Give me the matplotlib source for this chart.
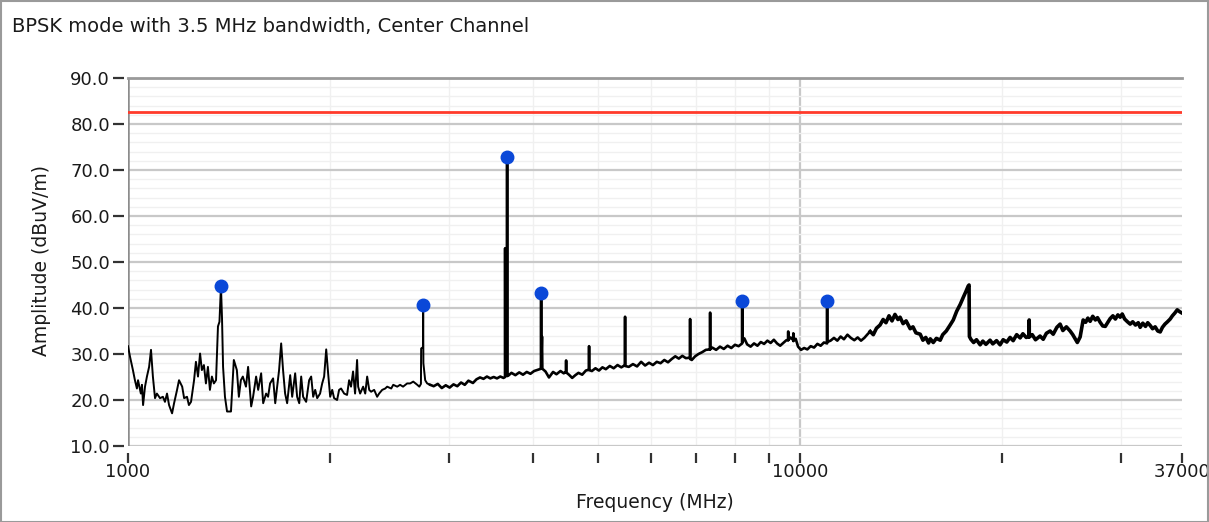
import matplotlib
matplotlib.use('Agg')
import matplotlib.pyplot as plt
from matplotlib.patches import Rectangle
from matplotlib.ticker import FixedLocator, NullFormatter, MultipleLocator

title = "BPSK mode with 3.5 MHz bandwidth, Center Channel"
x_label = "Frequency (MHz)"
y_label = "Amplitude (dBuV/m)"

x_major_ticks = [1000, 10000, 37000]
x_major_labels = ["1000", "10000", "37000"]
x_minor_ticks = [2000, 3000, 4000, 5000, 6000, 7000, 8000, 9000, 20000, 30000]
y_ticks = [10, 20, 30, 40, 50, 60, 70, 80, 90]

limit_level = 82.5

# Peak markers
marker_freq = [1375, 2749, 3665, 4118, 8200, 10970]
marker_amp = [44.8, 40.7, 72.8, 43.3, 41.5, 41.5]

# Trace: low-frequency segment (MHz, dBuV/m)
low_freq = [1000, 1007, 1017, 1024, 1031, 1035, 1045, 1049, 1053, 1060,
            1067, 1075, 1082, 1089, 1097, 1104, 1116, 1127, 1135, 1143,
            1151, 1163, 1171, 1183, 1191, 1204, 1212, 1224, 1232, 1241,
            1254, 1262, 1271, 1280, 1288, 1297, 1306, 1315, 1324, 1333,
            1342, 1352, 1361, 1368, 1375, 1380, 1385, 1394, 1404, 1423,
            1437, 1452, 1462, 1472, 1482, 1498, 1509, 1525, 1535, 1551,
            1562, 1578, 1589, 1605, 1616, 1627, 1644, 1656, 1678, 1690,
            1701, 1713, 1725, 1743, 1755, 1773, 1785, 1798, 1810, 1822,
            1841, 1860, 1873, 1886, 1899, 1912, 1931, 1945, 1958, 1972,
            1985, 1999, 2013, 2026, 2047, 2061, 2075, 2097, 2118, 2133,
            2147, 2162, 2177, 2192, 2200, 2215, 2238, 2254, 2269, 2285,
            2300, 2324, 2348, 2364, 2389, 2414, 2430, 2464, 2481, 2515,
            2540, 2566, 2602, 2629, 2657, 2694, 2713, 2728, 2730, 2747,
            2749, 2751, 2768, 2787, 2816]
low_amp = [31.7, 29.4, 26.5, 24.3, 22.5, 24.3, 21.4, 23.3, 18.9, 22.9,
           25.1, 27.2, 30.9, 25.1, 20.4, 21.4, 20.4, 20.7, 19.6, 21.4,
           18.9, 17.1, 19.3, 22.2, 24.3, 22.9, 20.4, 20.7, 18.9, 19.6,
           24.3, 28.3, 25.1, 30.1, 26.5, 27.6, 23.6, 27.2, 22.2, 25.1,
           23.6, 24.3, 36.0, 37.0, 44.8, 37.8, 27.2, 20.7, 17.5, 17.5,
           28.7, 26.5, 20.7, 24.3, 25.1, 22.9, 27.2, 18.6, 20.7, 25.1,
           22.2, 25.8, 19.3, 21.4, 20.7, 23.6, 24.7, 19.3, 26.5, 32.3,
           26.5, 21.4, 19.3, 25.4, 20.7, 25.8, 20.7, 19.3, 25.1, 20.7,
           19.6, 24.3, 25.1, 20.7, 22.2, 20.4, 21.4, 23.6, 25.1, 31.0,
           25.8, 20.7, 22.2, 20.4, 20.0, 22.2, 22.5, 21.4, 21.1, 24.3,
           22.9, 26.2, 21.4, 28.7, 22.9, 21.4, 22.9, 21.4, 25.1, 22.2,
           21.8, 22.2, 20.7, 21.4, 22.2, 22.5, 22.9, 22.5, 23.3, 22.9,
           23.3, 22.9, 23.6, 23.6, 24.0, 23.3, 22.9, 23.5, 31.2, 31.5,
           40.7, 28.0, 24.3, 23.6, 23.3]

# Trace: mid segment
mid_freq = [2816, 2850, 2890, 2930, 2970, 3010, 3050, 3090, 3130, 3170, 3210,
            3260, 3300, 3340, 3380, 3420, 3460, 3500, 3540, 3580, 3620,
            3640, 3640, 3641, 3652, 3664, 3665, 3666, 3680, 3720, 3770,
            3820, 3870, 3920, 3970, 4020, 4060, 4117, 4118, 4119, 4130,
            4135, 4180, 4230, 4290, 4340, 4400, 4450, 4485, 4486, 4487,
            4530, 4580, 4630, 4680, 4740, 4800, 4852, 4853, 4854, 4900,
            4960, 5020, 5080, 5140, 5210, 5280, 5350, 5420, 5489, 5490,
            5491, 5560, 5640, 5720, 5800, 5880, 5960, 6040, 6120, 6200,
            6280, 6360, 6440, 6520, 6600, 6680, 6760, 6859, 6860, 6861,
            6900, 6980, 7060, 7150, 7240, 7346, 7347, 7348, 7400, 7500,
            7600, 7700, 7800, 7900, 8000, 8100, 8199, 8200, 8201, 8260,
            8340, 8440, 8540, 8640, 8740, 8840, 8940, 9040, 9140, 9240,
            9340, 9440, 9540, 9599, 9600, 9601, 9680, 9769, 9770, 9771,
            9850, 9930, 10030, 10140, 10250, 10370, 10490, 10610, 10730, 10850,
            10969, 10970, 10971, 11100, 11230, 11360, 11490, 11620, 11760, 11900,
            12040, 12180, 12320, 12460, 12600, 12715]
mid_amp = [23.3, 23.0, 23.5, 22.6, 23.2, 22.7, 23.4, 23.0, 23.8, 23.3, 24.2,
           23.7, 24.5, 24.9, 24.6, 25.1, 24.7, 25.0, 24.7, 25.1, 24.8,
           25.0, 53.0, 25.2, 25.6, 25.4, 72.8, 25.2, 25.3, 25.9, 25.4,
           26.0, 25.5, 26.1, 25.7, 26.3, 26.5, 26.8, 43.3, 26.9, 33.8,
           26.8, 26.2, 24.9, 26.1, 25.6, 26.3, 25.8, 26.2, 28.6, 26.0,
           25.5, 24.8, 25.4, 25.9, 25.5, 26.4, 26.6, 31.7, 26.5, 26.3,
           26.9, 26.4, 27.1, 26.7, 27.4, 26.9, 27.6, 27.1, 27.6, 38.1,
           27.4, 27.2, 27.8, 27.3, 28.3, 27.5, 28.1, 27.6, 28.3, 28.0,
           28.7, 28.2, 28.9, 29.5, 29.0, 29.6, 29.1, 29.2, 37.6, 28.9,
           28.7, 29.5, 30.0, 30.4, 30.9, 31.0, 39.0, 31.0, 31.4, 30.9,
           31.6, 31.1, 31.8, 31.3, 32.0, 31.7, 32.3, 41.5, 32.5, 33.4,
           32.1, 31.6, 32.3, 31.8, 32.6, 32.2, 32.9, 32.4, 33.1, 32.3,
           31.8, 32.4, 33.0, 33.0, 34.9, 33.0, 33.6, 33.0, 34.5, 32.8,
           33.3, 31.6, 30.9, 31.3, 31.0, 31.7, 31.4, 32.2, 31.8, 32.5,
           32.3, 41.5, 32.6, 32.9, 33.5, 32.9, 33.8, 33.2, 34.2, 33.5,
           33.0, 33.6, 32.9, 33.5, 34.3, 34.9]

# Trace: high segment
high_freq = [12715, 12850, 12990, 13150, 13290, 13420, 13560, 13700, 13840, 13980,
             14085, 14230, 14380, 14580, 14720, 14870, 15090, 15230, 15380, 15530,
             15620, 15780, 15950, 16160, 16300, 16500, 16720, 16900, 17100, 17310,
             17500, 17650, 17790, 17840, 17860, 17950, 18120, 18300, 18530, 18700,
             18900, 19170, 19350, 19600, 19840, 20050, 20300, 20530, 20750, 21000,
             21250, 21450, 21700, 21910, 21920, 21930, 22150, 22400, 22750, 23000,
             23250, 23550, 23800, 24100, 24370, 24600, 24900, 25220, 25450, 25660,
             25850, 26100, 26370, 26600, 26800, 27010, 27250, 27500, 27700, 27950,
             28200, 28450, 28700, 28930, 29200, 29450, 29700, 29940, 30150, 30400,
             30700, 30980, 31250, 31550, 31850, 32060, 32350, 32650, 32900, 33180,
             33450, 33750, 34050, 34340, 34600, 34900, 35200, 35530, 35800, 36100,
             36400, 36700, 37000]
high_amp = [34.9, 34.2, 35.6, 36.3, 37.5, 36.8, 38.3, 37.2, 38.6, 37.5,
            38.0, 36.6, 37.2, 35.5, 35.9, 34.6, 34.3, 33.0, 33.6, 32.4,
            33.3, 32.5, 33.4, 33.0, 34.2, 35.0, 36.3, 37.4, 39.3, 40.8,
            42.4, 43.6, 44.8, 45.0, 33.8, 33.2, 32.5, 33.1, 32.0, 32.8,
            32.1, 33.0, 32.2, 32.9, 32.0, 33.1, 32.6, 33.6, 32.9, 34.2,
            33.5, 34.4, 33.6, 33.8, 37.4, 33.7, 34.2, 33.1, 33.9, 33.2,
            34.5, 35.0, 34.3, 35.8, 36.5, 35.1, 35.9, 35.0, 34.2, 33.3,
            32.5, 33.7, 37.4, 36.9, 37.8, 37.1, 38.2, 37.4, 37.9, 36.9,
            36.1, 36.0, 36.9, 37.7, 38.3, 37.6, 38.5, 38.0, 38.7, 37.6,
            37.0, 36.5, 37.0, 36.3, 36.8, 35.8, 36.7, 36.0, 36.8, 36.2,
            35.5, 35.9, 35.0, 34.8, 35.8, 36.5, 37.0, 37.6, 38.3, 38.9,
            39.6, 39.2, 38.9]

W, H = 1209, 522
fig = plt.figure(figsize=(W / 100, H / 100), dpi=100)
ax = fig.add_axes([128 / W, 1 - 446 / H, (1182 - 128) / W, (446 - 78) / H])

ax.set_xscale('log')
ax.set_xlim(1000, 37000)
ax.set_ylim(10, 90)

# grid
ax.set_axisbelow(True)
ax.yaxis.set_minor_locator(MultipleLocator(2))
ax.xaxis.set_minor_locator(FixedLocator(x_minor_ticks))
ax.xaxis.set_minor_formatter(NullFormatter())
ax.grid(which='minor', axis='both', color='#f0f0f0', lw=1.0, zorder=0)
ax.grid(which='major', axis='y', color='#c8c8c8', lw=1.6, zorder=0.5)
ax.axvline(10000, color='#c8c8c8', lw=1.6, zorder=0.5)
ax.axvline(1000, color='#8c8c8c', lw=1.8, zorder=0.6)

# ticks
ax.set_xticks(x_major_ticks)
ax.set_xticklabels(x_major_labels)
ax.set_yticks(y_ticks)
ax.set_yticklabels([f"{v:.1f}" for v in y_ticks])
ax.tick_params(axis='y', which='major', direction='out', length=8, width=1.6,
               color='#333333', labelsize=13, pad=2, labelcolor='#1a1a1a')
ax.tick_params(axis='y', which='minor', length=0)
ax.tick_params(axis='x', which='both', direction='out', length=7, width=1.6,
               color='#333333', labelsize=13, pad=0, labelcolor='#1a1a1a')

ax.spines['right'].set_visible(False)
ax.spines['left'].set_position(('outward', 3))
ax.spines['left'].set_visible(False)
ax.spines['bottom'].set_position(('outward', 5))
ax.spines['bottom'].set_visible(False)
ax.spines['top'].set_color('#9a9a9a')
ax.spines['top'].set_linewidth(2)

# data
ax.axhline(limit_level, color='#ff3a2a', lw=2.0, zorder=2)
ax.plot(low_freq, low_amp, color='black', lw=1.4, zorder=3)
ax.plot(mid_freq, mid_amp, color='black', lw=1.9, zorder=3)
ax.plot(high_freq, high_amp, color='black', lw=2.6, zorder=3)
ax.plot(marker_freq, marker_amp, 'o', color='#0a48d8', mec='#0a48d8', ms=9, zorder=4)

# texts
fig.text(12 / W, 1 - 27 / H, title, ha='left', va='center', fontsize=14, color='#1a1a1a')
fig.text(655 / W, 1 - 503 / H, x_label, ha='center', va='center', fontsize=13.5, color='#1a1a1a')
fig.text(42 / W, 1 - 261 / H, y_label, ha='center', va='center', rotation=90,
         fontsize=13.5, color='#1a1a1a')

fig.add_artist(Rectangle((0.5 / W, 0.5 / H), (W - 1.5) / W, (H - 1.5) / H,
                         transform=fig.transFigure, fill=False, ec='#9a9a9a', lw=1.5))

fig.savefig('out.png', dpi=100)
